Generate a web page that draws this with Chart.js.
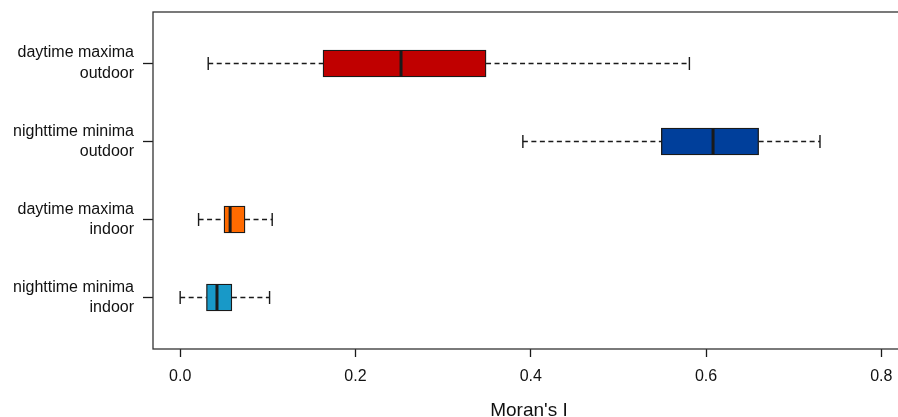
<!DOCTYPE html>
<html>
<head>
<meta charset="utf-8">
<script src="https://cdn.jsdelivr.net/npm/chart.js@4"></script>
<style>
  html, body { margin: 0; padding: 0; background: #fff; overflow: hidden; }
  #wrap { width: 906px; height: 417px; }
</style>
</head>
<body>
<div id="wrap"><canvas id="chart"></canvas></div>
<script>
// Moran's I per group (top to bottom)
const categories = [
  ["daytime maxima", "outdoor"],
  ["nighttime minima", "outdoor"],
  ["daytime maxima", "indoor"],
  ["nighttime minima", "indoor"]
]
const whiskerLow  = [0.032, 0.391, 0.021, 0.000]
const quartile1   = [0.163, 0.549, 0.050, 0.030]
const medians     = [0.252, 0.608, 0.057, 0.042]
const quartile3   = [0.349, 0.660, 0.074, 0.059]
const whiskerHigh = [0.581, 0.730, 0.105, 0.102]
const boxColors   = ["#C00000", "#003F9B", "#FF6A00", "#1899C8"]
const xTicks      = [0, 0.2, 0.4, 0.6, 0.8]

const positions = categories.map((_, i) => i + 1)
const ink = "#1a1a1a"

// whiskers + caps under the boxes, medians over them
const boxplotPlugin = {
  id: "boxplotExtras",
  beforeDatasetsDraw(chart) {
    const { ctx, scales: { x, y } } = chart
    ctx.save()
    ctx.strokeStyle = ink
    ctx.lineWidth = 1.4
    positions.forEach((p, i) => {
      const py = y.getPixelForValue(p)
      ctx.setLineDash([5, 3.5])
      ctx.beginPath()
      ctx.moveTo(x.getPixelForValue(whiskerLow[i]), py)
      ctx.lineTo(x.getPixelForValue(quartile1[i]), py)
      ctx.moveTo(x.getPixelForValue(quartile3[i]), py)
      ctx.lineTo(x.getPixelForValue(whiskerHigh[i]), py)
      ctx.stroke()
      ctx.setLineDash([])
      ctx.beginPath()
      ;[whiskerLow[i], whiskerHigh[i]].forEach((v) => {
        const px = x.getPixelForValue(v)
        ctx.moveTo(px, py - 6.5)
        ctx.lineTo(px, py + 6.5)
      })
      ctx.stroke()
    })
    ctx.restore()
  },
  afterDatasetsDraw(chart) {
    const { ctx, scales: { x, y }, chartArea } = chart
    ctx.save()
    ctx.strokeStyle = ink
    ctx.lineWidth = 3
    positions.forEach((p, i) => {
      const py = y.getPixelForValue(p)
      const px = x.getPixelForValue(medians[i])
      ctx.beginPath()
      ctx.moveTo(px, py - 13)
      ctx.lineTo(px, py + 13)
      ctx.stroke()
    })
    // plot frame
    ctx.lineWidth = 1.3
    ctx.strokeStyle = "#333"
    ctx.strokeRect(chartArea.left, chartArea.top, chartArea.right - chartArea.left, chartArea.bottom - chartArea.top)
    ctx.restore()
  }
}

new Chart(document.getElementById("chart"), {
  type: "bar",
  data: {
    datasets: [{
      data: positions.map((p, i) => ({ y: p, x: [quartile1[i], quartile3[i]] })),
      backgroundColor: boxColors,
      borderColor: ink,
      borderWidth: 1.3,
      borderSkipped: false,
      barThickness: 27
    }]
  },
  options: {
    indexAxis: "y",
    responsive: true,
    maintainAspectRatio: false,
    animation: false,
    layout: { padding: { top: 12, right: 1, left: 0, bottom: 0 } },
    plugins: { legend: { display: false }, tooltip: { enabled: false } },
    scales: {
      y: {
        type: "linear",
        reverse: true,
        offset: false,
        min: 0.34,
        max: 4.66,
        afterBuildTicks: (scale) => { scale.ticks = positions.map((v) => ({ value: v })) },
        afterFit: (scale) => {
          scale.width = 153
          scale.paddingTop = 0
          scale.paddingBottom = 0
        },
        border: { display: false },
        grid: { offset: false, drawOnChartArea: false, tickLength: 10, tickColor: ink, tickWidth: 1.3 },
        ticks: {
          padding: 9,
          color: "#111",
          font: { family: "Liberation Sans, Arial, sans-serif", size: 16, lineHeight: 1.3 },
          callback: (v) => categories[v - 1]
        }
      },
      x: {
        type: "linear",
        min: -0.031,
        max: 0.827,
        afterBuildTicks: (scale) => { scale.ticks = xTicks.map((v) => ({ value: v })) },
        afterFit: (scale) => { scale.height = 68 },
        border: { display: false },
        grid: { drawOnChartArea: false, tickLength: 8, tickColor: ink, tickWidth: 1.3 },
        ticks: {
          padding: 10,
          color: "#111",
          maxRotation: 0,
          font: { family: "Liberation Sans, Arial, sans-serif", size: 16 },
          callback: (v) => v.toFixed(1)
        },
        title: {
          display: true,
          text: "Moran's I",
          color: "#111",
          padding: { top: 0, bottom: -5 },
          font: { family: "Liberation Sans, Arial, sans-serif", size: 19 }
        }
      }
    }
  },
  plugins: [boxplotPlugin]
})
</script>
</body>
</html>
